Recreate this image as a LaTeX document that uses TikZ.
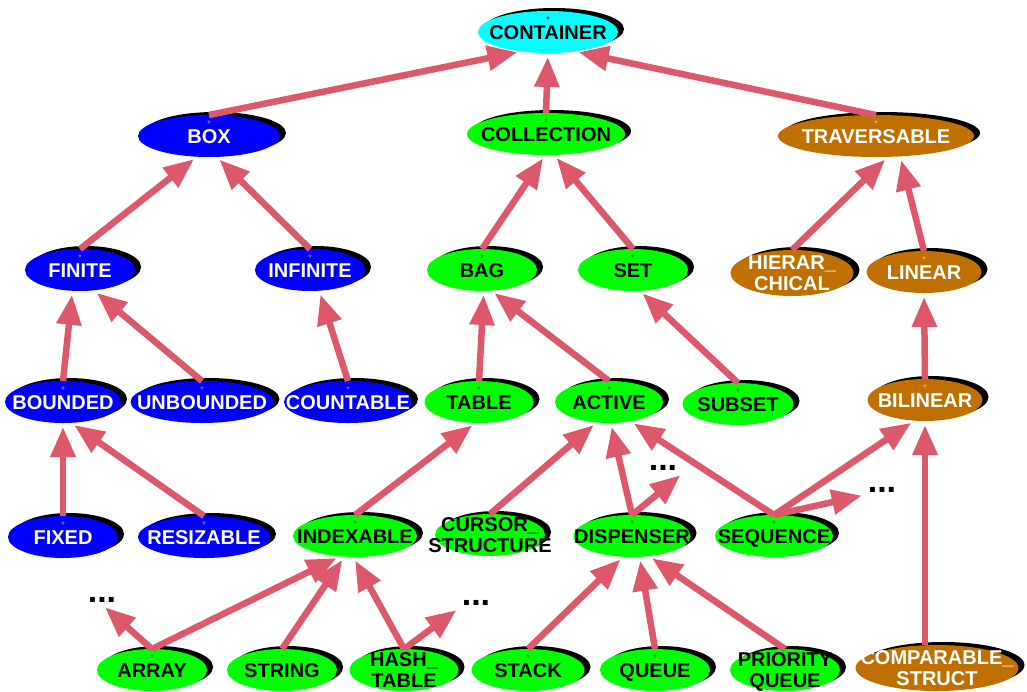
\documentclass[tikz,border=0pt]{standalone}
\usepackage{fontspec}
\setmainfont{Liberation Sans}
\usetikzlibrary{arrows.meta, shapes.geometric, shadows}
\definecolor{isared}{RGB}{221,88,106}
\definecolor{aqua}{RGB}{0,255,255}
\definecolor{brownish}{RGB}{192,112,0}
\definecolor{starblue}{RGB}{130,130,255}
\definecolor{stargreen}{RGB}{0,140,0}
\definecolor{starbrown}{RGB}{235,185,120}
\newcommand{\cname}[1]{\makebox[0pt]{\smash{\raisebox{-.5\height}{\begin{tabular}[b]{@{}c@{}}#1\end{tabular}}}}}
\tikzset{%
	classnode/.style={
		ellipse,
		inner sep=0pt,
		outer sep=0pt,
		minimum height=42pt,
		font=\fontsize{20}{21}\selectfont\bfseries,
		drop shadow={shadow xshift=6pt, shadow yshift=3pt, fill=black, opacity=1}
	},
	deferred/.style={
		label={[anchor=north, inner sep=0pt, label distance=-5pt, font=\fontsize{10}{10}\selectfont, text=#1]north:*}
	},
	cyanclass/.style={classnode, fill=aqua, text=black, deferred=black},
	blueclass/.style={classnode, fill=blue, text=white, deferred=starblue},
	greenclass/.style={classnode, fill=green, text=black, deferred=stargreen},
	brownclass/.style={classnode, fill=brownish, text=white, deferred=starbrown},
	plaingreen/.style={classnode, fill=green, text=black},
	plainbrown/.style={classnode, fill=brownish, text=white},
	etcetera/.style={inner sep=2pt, font=\fontsize{34}{34}\selectfont\bfseries},
	isa/.style={-{Triangle[length=30pt, width=24pt]}, line width=6.5pt, draw=isared, shorten >=4pt},
}
\begin{document}
\begin{tikzpicture}[x=1pt, y=-1pt]
			\useasboundingbox (0,0) rectangle (1027,691);
			\clip (0,0) rectangle (1027,691);
			
			\node[cyanclass, minimum width=140pt] (container) at (548,32) {\cname{CONTAINER}};
			\node[blueclass, minimum width=142pt] (box) at (209,136) {\cname{BOX}};
			\node[greenclass, minimum width=158pt] (collection) at (546,134) {\cname{COLLECTION}};
			\node[brownclass, minimum width=196pt] (traversable) at (876,136) {\cname{TRAVERSABLE}};
			
			\node[blueclass, minimum width=110pt] (finite) at (80,270) {\cname{FINITE}};
			\node[blueclass, minimum width=110pt] (infinite) at (310,270) {\cname{INFINITE}};
			\node[greenclass, minimum width=110pt] (bag) at (482,270) {\cname{BAG}};
			\node[greenclass, minimum width=110pt] (set) at (633,270) {\cname{SET}};
			\node[plainbrown, minimum width=123pt, minimum height=46pt] (hierarchical) at (792,273) {\cname{HIERAR\_\\CHICAL}};
			\node[brownclass, minimum width=115pt] (linear) at (924,272) {\cname{LINEAR}};
			
			\node[blueclass, minimum width=116pt] (bounded) at (63,402) {\cname{BOUNDED}};
			\node[blueclass, minimum width=143pt] (unbounded) at (202,402) {\cname{UNBOUNDED}};
			\node[blueclass, minimum width=128pt] (countable) at (348,402) {\cname{COUNTABLE}};
			\node[greenclass, minimum width=109pt] (table) at (479,402) {\cname{TABLE}};
			\node[greenclass, minimum width=108pt] (active) at (609,402) {\cname{ACTIVE}};
			\node[greenclass, minimum width=111pt] (subset) at (738,404) {\cname{SUBSET}};
			\node[brownclass, minimum width=115pt] (bilinear) at (925,400) {\cname{BILINEAR}};
			
			\node[blueclass, minimum width=110pt] (fixed) at (63,537) {\cname{FIXED}};
			\node[blueclass, minimum width=132pt] (resizable) at (204,537) {\cname{RESIZABLE}};
			\node[greenclass, minimum width=124pt] (indexable) at (355,536) {\cname{INDEXABLE}};
			\node[plaingreen, minimum width=110pt] (cursor) at (490,535) {\cname{CURSOR\_\\STRUCTURE}};
			\node[greenclass, minimum width=117pt] (dispenser) at (632,536) {\cname{DISPENSER}};
			\node[greenclass, minimum width=118pt] (sequence) at (774,536) {\cname{SEQUENCE}};
			
			\node[greenclass, minimum width=110pt] (array) at (152,670) {\cname{ARRAY}};
			\node[greenclass, minimum width=110pt] (string) at (282,670) {\cname{STRING}};
			\node[plaingreen, minimum width=109pt] (hashtable) at (404,670) {\cname{HASH\_\\TABLE}};
			\node[greenclass, minimum width=113pt] (stack) at (528,670) {\cname{STACK}};
			\node[greenclass, minimum width=110pt] (queue) at (655,670) {\cname{QUEUE}};
			\node[plaingreen, minimum width=110pt] (priorityqueue) at (785,670) {\cname{PRIORITY\\QUEUE}};
			\node[plainbrown, minimum width=163pt, minimum height=46pt] (comparable) at (937,668) {\cname{COMPARABLE\_\\STRUCT}};
			
			\node[etcetera] (etcA) at (663,468) {...};
			\node[etcetera] (etcB) at (882,490) {...};
			\node[etcetera] (etcC) at (102,600) {...};
			\node[etcetera] (etcD) at (476,603) {...};
			
			\draw[isa] (box.north) -- (container.216);
			\draw[isa] (collection.north) -- (container.south);
			\draw[isa] (traversable.north) -- (container.324);
			\draw[isa] (finite.north) -- (box.240);
			\draw[isa] (infinite.north) -- (box.290);
			\draw[isa] (bag.north) -- (collection.268);
			\draw[isa] (set.north) -- (collection.291);
			\draw[isa] (hierarchical.north) -- (traversable.300);
			\draw[isa] (linear.north) -- (traversable.320);
			\draw[isa] (bounded.north) -- (finite.250);
			\draw[isa] (unbounded.north) -- (finite.304);
			\draw[isa] (countable.north) -- (infinite.294);
			\draw[isa] (table.north) -- (bag.275);
			\draw[isa] (active.north) -- (bag.294);
			\draw[isa] (subset.north) -- (set.288);
			\draw[isa] (bilinear.north) -- (linear.south);
			\draw[isa] (fixed.north) -- (bounded.south);
			\draw[isa] (resizable.north) -- (bounded.291);
			\draw[isa] (indexable.north) -- (table.260);
			\draw[isa] (cursor.north) -- (active.239);
			\draw[isa] (dispenser.north) -- (active.275);
			\draw[isa] (dispenser.north) -- ([xshift=4pt]etcA.south east);
			\draw[isa] (sequence.north) -- (active.318);
			\draw[isa] (sequence.north) -- (bilinear.243);
			\draw[isa] (sequence.north) -- (etcB.south west);
			\draw[isa] (array.north) -- (indexable.234);
			\draw[isa] (array.north) -- (etcC.south);
			\draw[isa] (string.north) -- (indexable.243);
			\draw[isa] (hashtable.north) -- (indexable.265);
			\draw[isa] (hashtable.north) -- (etcD.south west);
			\draw[isa] (stack.north) -- (dispenser.247);
			\draw[isa] (queue.north) -- (dispenser.290);
			\draw[isa] (priorityqueue.north) -- (dispenser.310);
			\draw[isa] ([xshift=-12pt]comparable.north) -- (bilinear.south);
			
		\end{tikzpicture}
\end{document}
